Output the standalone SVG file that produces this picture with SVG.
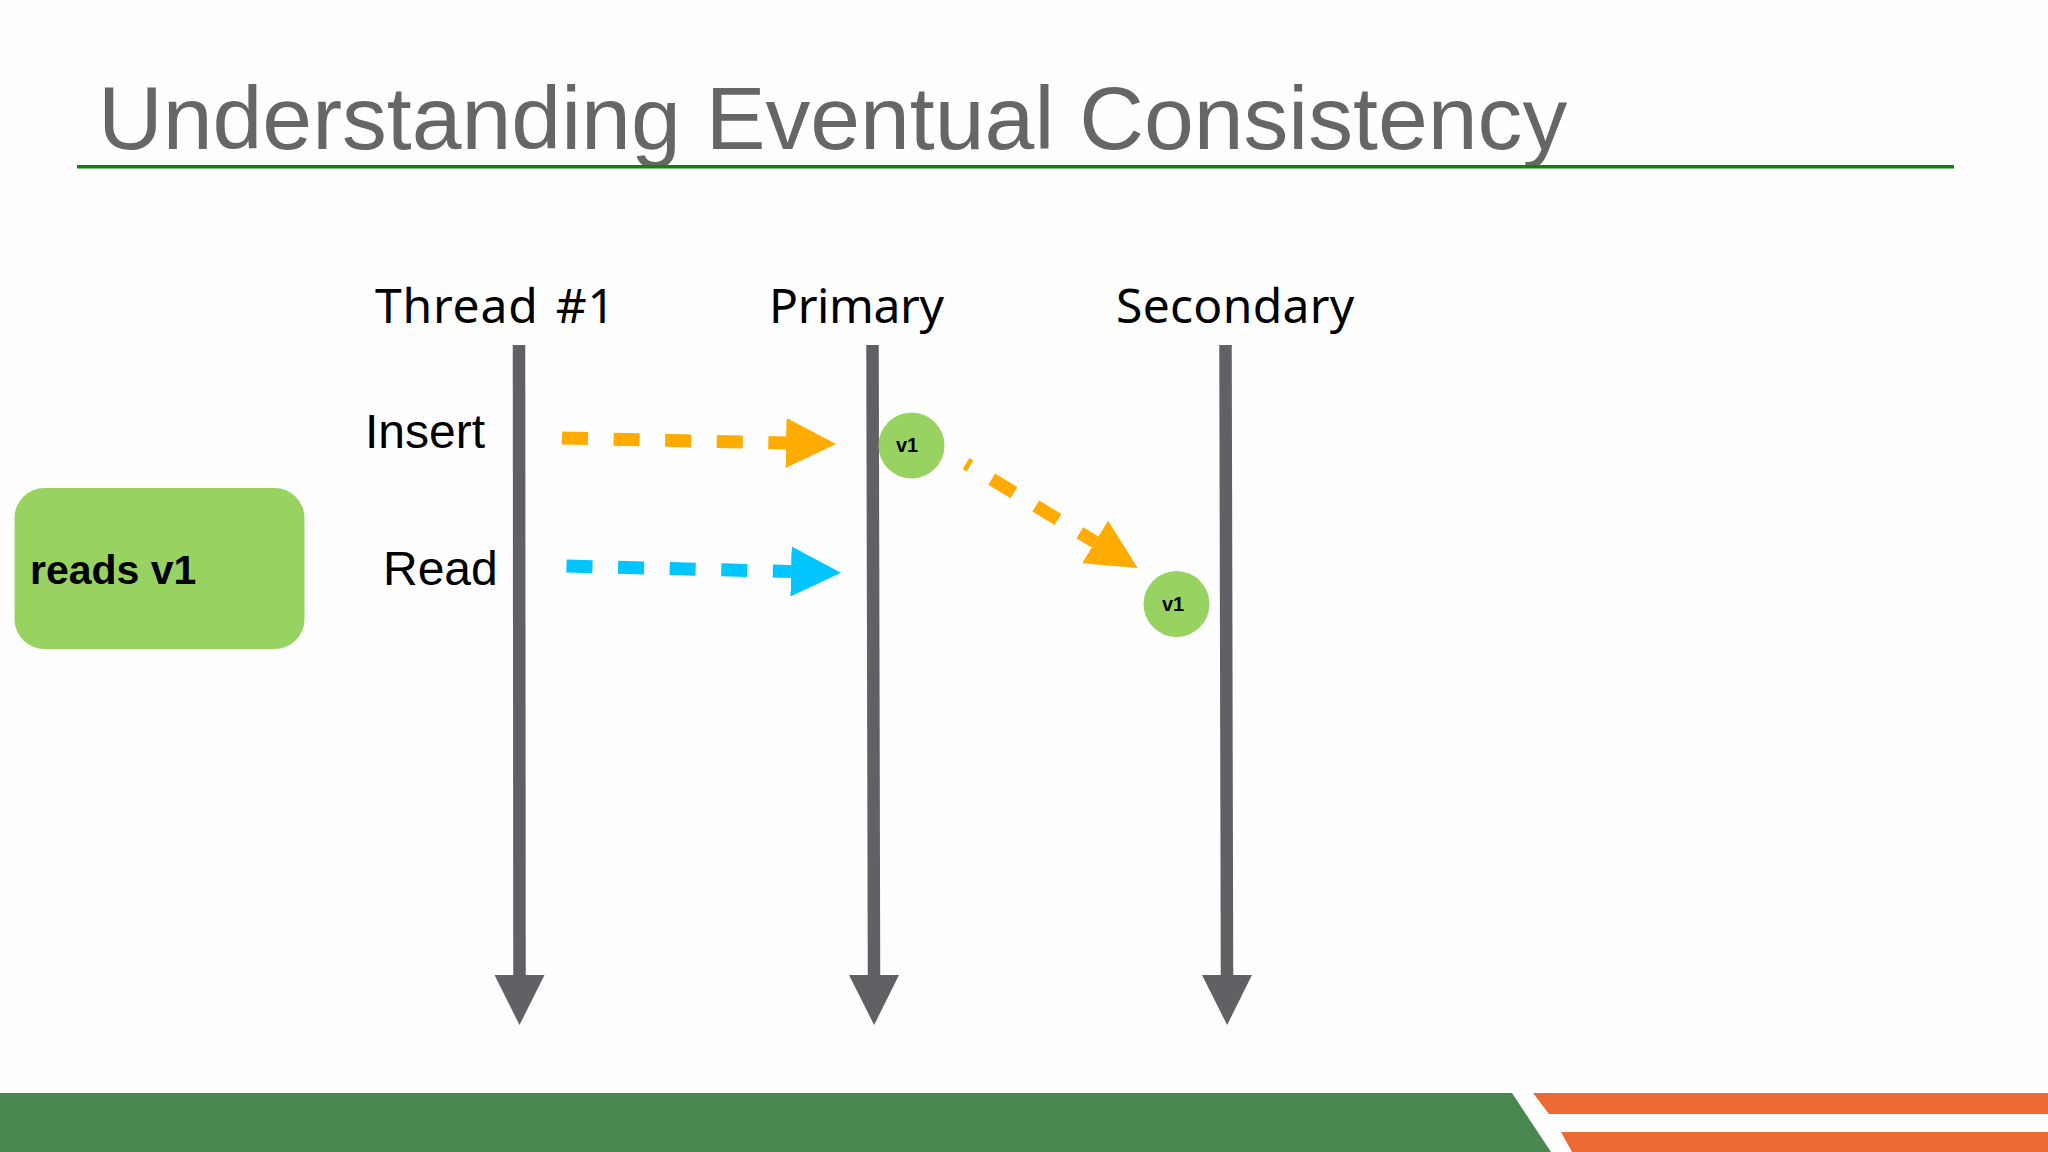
<svg xmlns="http://www.w3.org/2000/svg" width="2048" height="1152" viewBox="0 0 2048 1152">
<style>
.title{font-family:"Liberation Sans",Arial,sans-serif;font-size:89.6px;fill:#666666}
.head{font-family:"Noto Sans","Open Sans",sans-serif;font-size:48px;fill:#000}
.lab{font-family:"Liberation Sans",Arial,sans-serif;font-size:48px;fill:#000}
.v{font-family:"Liberation Sans",Arial,sans-serif;font-size:20px;font-weight:700;fill:#000}
.life{stroke:#626064;stroke-width:12.5;fill:none;marker-end:url(#gh)}
.dash{stroke-width:13;fill:none;stroke-dasharray:26 25.6}
.o{stroke:#ffab00}.b{stroke:#00c5ff}
.dot{fill:#98d362}
</style>
<defs>
<marker id="gh" markerUnits="userSpaceOnUse" markerWidth="51" markerHeight="50" refX="0" refY="25" orient="auto"><path d="M0 0L50 25L0 50Z" fill="#626064"/></marker>
<marker id="oh" markerUnits="userSpaceOnUse" markerWidth="50" markerHeight="50" refX="0" refY="25" orient="auto"><path d="M0 0L50 25L0 50Z" fill="#ffab00"/></marker>
<marker id="bh" markerUnits="userSpaceOnUse" markerWidth="50" markerHeight="50" refX="0" refY="25" orient="auto"><path d="M0 0L50 25L0 50Z" fill="#00c5ff"/></marker>
</defs>
<rect width="2048" height="1152" fill="#fefefe"/>
<g id="header">
<text class="title" x="98" y="149">Understanding Eventual Consistency</text>
<rect x="77" y="165" width="1877" height="3.5" fill="#0a850a"/>
</g>
<g id="footer">
<path d="M0 1093H1512L1551 1152H0Z" fill="#4a8750"/>
<path d="M1533 1093H2048V1114H1549Z" fill="#ee6a35"/>
<path d="M1561 1132H2048V1152H1572Z" fill="#ee6a35"/>
</g>
<g id="connectors">
<line class="life" x1="519" y1="345" x2="519.5" y2="975"/>
<line class="life" x1="872.5" y1="345" x2="874" y2="975"/>
<line class="life" x1="1225.5" y1="345" x2="1227" y2="975"/>
<line class="dash o" x1="562" y1="438" x2="786" y2="443" marker-end="url(#oh)"/>
<line class="dash b" x1="566.5" y1="566" x2="791" y2="571.5" marker-end="url(#bh)"/>
<line class="dash o" x1="966" y1="463.5" x2="1095" y2="542" style="stroke-dasharray:4.5 25.6 26 25.6 26 25.6 40" marker-end="url(#oh)"/>
</g>
<g id="thread"><text class="head" x="375" y="323" word-spacing="4" letter-spacing="0.8">Thread #1</text></g>
<g id="primary"><text class="head" x="769" y="323" letter-spacing="-0.4">Primary</text></g>
<g id="secondary"><text class="head" x="1116" y="323" letter-spacing="0.3">Secondary</text></g>
<g id="insert"><text class="lab" x="365" y="448">Insert</text></g>
<g id="read"><text class="lab" x="383" y="585">Read</text></g>
<g id="reads-v1"><rect x="14.5" y="488" width="290" height="161" rx="30" fill="#98d362"/>
<text x="30" y="584" font-family="Liberation Sans, Arial, sans-serif" font-size="41" font-weight="700" fill="#000">reads v1</text></g>
<g id="v1-primary"><circle class="dot" cx="911.5" cy="445.5" r="33"/><text class="v" x="896" y="452">v1</text></g>
<g id="v1-secondary"><circle class="dot" cx="1176.5" cy="604" r="33"/><text class="v" x="1162" y="611">v1</text></g>
</svg>
